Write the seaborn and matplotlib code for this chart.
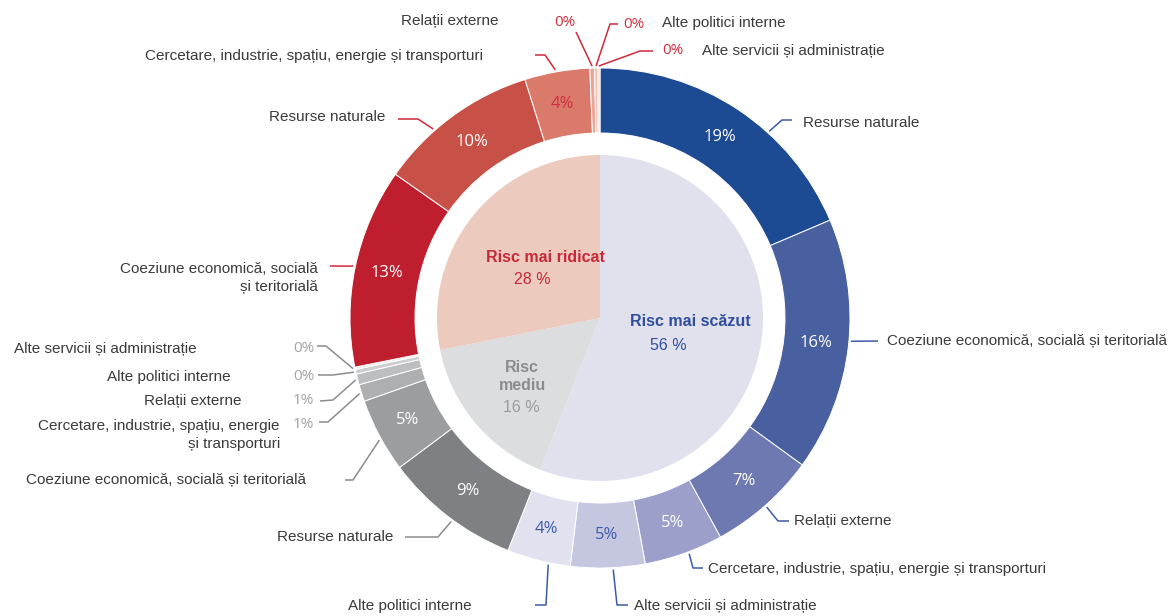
import textwrap
import numpy as np
import matplotlib
matplotlib.use("Agg")
import matplotlib.pyplot as plt
from matplotlib import font_manager
import seaborn as sns

# ---- data: share of the spending (%) ----
risk_levels = ['Risc mai scăzut', 'Risc mediu', 'Risc mai ridicat']

low_domains = ['Resurse naturale',
               'Coeziune economică, socială și teritorială',
               'Relații externe',
               'Cercetare, industrie, spațiu, energie și transporturi',
               'Alte servicii și administrație',
               'Alte politici interne']
low_values = [18.6, 16.4, 7.0, 5.1, 4.8, 4.1]

medium_domains = ['Resurse naturale',
                  'Coeziune economică, socială și teritorială',
                  'Cercetare, industrie, spațiu, energie și transporturi',
                  'Relații externe',
                  'Alte politici interne',
                  'Alte servicii și administrație']
medium_values = [8.8, 4.8, 1.1, 0.7, 0.3, 0.15]

high_domains = ['Coeziune economică, socială și teritorială',
                'Resurse naturale',
                'Cercetare, industrie, spațiu, energie și transporturi',
                'Relații externe',
                'Alte politici interne',
                'Alte servicii și administrație']
high_values = [12.9, 10.4, 4.2, 0.3, 0.2, 0.15]

# ---- style ----
sns.set_theme(style="white")
avail = {f.name for f in font_manager.fontManager.ttflist}
if 'Liberation Sans Narrow' in avail:
    LABEL_FONT, LABEL_SIZE = ['Liberation Sans Narrow', 'DejaVu Sans'], 12
else:
    LABEL_FONT, LABEL_SIZE = ['Liberation Sans', 'DejaVu Sans'], 11
PCT_FONT = ['Open Sans', 'DejaVu Sans']
plt.rcParams['font.family'] = LABEL_FONT

blue_cols = ['#1C4A93', '#485FA0', '#6E79B1', '#9B9FCA', '#C5C7E1', '#E1E1F0']
grey_cols = ['#7F8083', '#9C9D9F', '#AEAFB1', '#BDBEC0', '#CDCECF', '#EBEBEB']
red_cols = ['#BE1E2D', '#C85147', '#D97A6B', '#E9A597', '#F0C0B2', '#F6D9CF']
inner_cols = ['#E1E1EE', '#DCDDDE', '#ECCABD']
group_line = ['#3C5AA6', '#8C8C8C', '#CE2A3A']
ring_txt = ['white', 'white', 'white', 'white', '#3D5BA9', '#3D5BA9',
            'white', 'white', None, None, None, None,
            'white', 'white', '#CE3040', None, None, None]

W, H = 1173, 616
CX, CY = 600, 318          # pie centre in pixels (y down)
R_OUT, RING_W, R_PIE = 250, 65, 163


def P(x, y):
    return x, H - y


# callout layout per outer wedge (pixel coords): anchor fraction along wedge,
# leader path, label position/alignment, optional wrap width and outside % position
callouts = [
    dict(frac=0.63, path=[(782, 120), (792, 120)], xy=(803, 123), ha='left'),
    dict(frac=0.48, path=[(878, 341)], xy=(887, 341), ha='left'),
    dict(frac=0.50, path=[(778, 521), (789, 521)], xy=(794, 521), ha='left'),
    dict(frac=0.44, path=[(693, 568), (703, 568)], xy=(708, 569), ha='left'),
    dict(frac=0.43, path=[(617, 605), (628, 605)], xy=(634, 606), ha='left'),
    dict(frac=0.34, path=[(546, 605), (535, 605)], xy=(472, 606), ha='right'),
    dict(frac=0.46, path=[(438, 537), (405, 537)], xy=(393, 537), ha='right'),
    dict(frac=0.45, path=[(353, 480), (345, 480)], xy=(306, 480), ha='right'),
    dict(frac=0.5, path=[(328, 422), (319, 422)], xy=(280, 435), ha='right', wrap=37,
         pct=(314, 424), pct_ha='right'),
    dict(frac=0.5, path=[(333, 400), (320, 401)], xy=(241, 401), ha='right',
         pct=(314, 401), pct_ha='right'),
    dict(frac=0.5, path=[(333, 375), (318, 375)], xy=(231, 377), ha='right',
         pct=(314, 376), pct_ha='right'),
    dict(frac=0.5, path=[(326, 346), (317, 346)], xy=(197, 349), ha='right',
         pct=(314, 348), pct_ha='right'),
    dict(frac=0.5, path=[(330, 266)], xy=(318, 278), ha='right', wrap=27),
    dict(frac=0.36, path=[(418, 119), (398, 119)], xy=(385, 117), ha='right'),
    dict(frac=0.48, path=[(545, 55), (535, 55)], xy=(483, 56), ha='right'),
    dict(frac=0.5, path=[(576, 32)], xy=(450, 21), ha='center',
         pct=(565, 22), pct_ha='center'),
    dict(frac=0.5, path=[(610, 24), (618, 24)], xy=(662, 23), ha='left',
         pct=(623, 24), pct_ha='left'),
    dict(frac=0.5, path=[(640, 51), (653, 51)], xy=(702, 51), ha='left',
         pct=(662, 51), pct_ha='left'),
]

center_layout = [
    dict(name=(690, 322), pct=(668, 345), wrap=None, col='#2F4F9C', pcol='#2F4F9C'),
    dict(name=(522, 376), pct=(521, 408), wrap=5, col='#8B8C8E', pcol='#9B9B9B'),
    dict(name=(545, 258), pct=(532, 280), wrap=None, col='#C62A3A', pcol='#C62A3A'),
]

outer_domains = low_domains + medium_domains + high_domains
outer_values = low_values + medium_values + high_values
outer_group = [0] * len(low_values) + [1] * len(medium_values) + [2] * len(high_values)
inner_values = [sum(low_values), sum(medium_values), sum(high_values)]

fig = plt.figure(figsize=(W / 100, H / 100), dpi=100)
ax = fig.add_axes([0, 0, 1, 1])

wedges, _ = ax.pie(outer_values, radius=R_OUT, center=P(CX, CY), startangle=90,
                   counterclock=False, colors=blue_cols + grey_cols + red_cols,
                   wedgeprops=dict(width=RING_W, edgecolor='white', linewidth=0.7))
ax.pie(inner_values, radius=R_PIE, center=P(CX, CY), startangle=90,
       counterclock=False, colors=inner_cols, wedgeprops=dict(linewidth=0))

cx, cy = P(CX, CY)
for i, (w, name, val, grp, co) in enumerate(zip(wedges, outer_domains, outer_values,
                                                outer_group, callouts)):
    t1, t2 = w.theta1, w.theta2
    # leader line from the wedge edge
    ang = np.deg2rad(t2 - co['frac'] * (t2 - t1))
    xs = [cx + (R_OUT + 2) * np.cos(ang)]
    ys = [cy + (R_OUT + 2) * np.sin(ang)]
    for p in co['path']:
        px, py = P(*p)
        xs.append(px)
        ys.append(py)
    ax.plot(xs, ys, color=group_line[grp], lw=1.1, solid_capstyle='butt')

    label = textwrap.fill(name, co['wrap']) if co.get('wrap') else name
    ax.text(*P(*co['xy']), label, ha=co['ha'], va='center', multialignment=co['ha'],
            fontsize=LABEL_SIZE, color='#3A3A3A', linespacing=1.3)

    pct = f"{val:.0f}%"
    if co.get('pct'):
        pcol = '#A3A3A3' if grp == 1 else '#D0303E'
        ax.text(*P(*co['pct']), pct, ha=co['pct_ha'], va='center', fontsize=11,
                color=pcol, family=PCT_FONT)
    else:
        mid = np.deg2rad((t1 + t2) / 2)
        rr = R_OUT - RING_W / 2
        ax.text(cx + rr * np.cos(mid), cy + rr * np.sin(mid), pct, ha='center',
                va='center', fontsize=12, color=ring_txt[i], family=PCT_FONT)

for name, val, cl in zip(risk_levels, inner_values, center_layout):
    label = textwrap.fill(name, cl['wrap']) if cl['wrap'] else name
    ax.text(*P(*cl['name']), label, ha='center', va='center', fontsize=11.5,
            fontweight='bold', color=cl['col'], linespacing=1.25)
    ax.text(*P(*cl['pct']), f"{val:.0f} %", ha='center', va='center', fontsize=11.5,
            color=cl['pcol'])

ax.set_xlim(0, W)
ax.set_ylim(0, H)
ax.set_aspect('equal')
ax.axis('off')

fig.savefig('out.png', dpi=100)
